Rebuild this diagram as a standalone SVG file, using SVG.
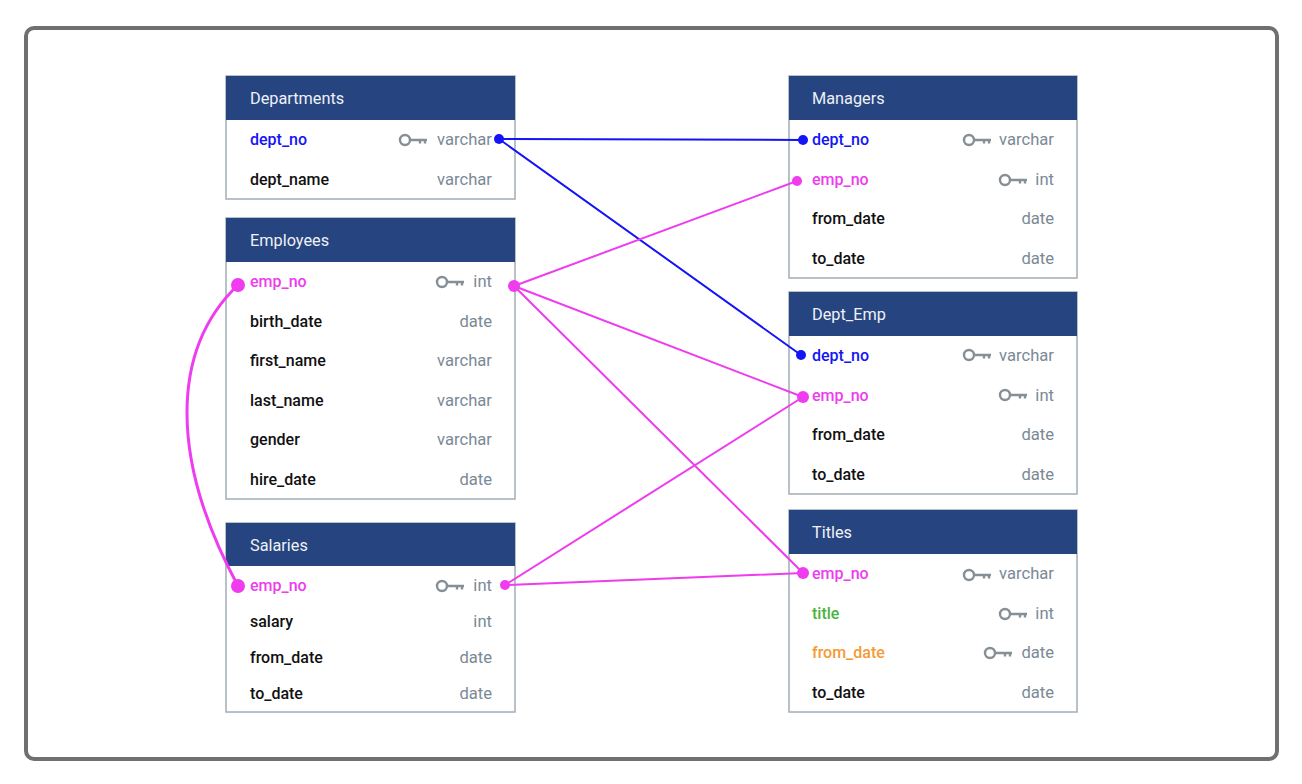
<svg xmlns="http://www.w3.org/2000/svg" width="1302" height="784" viewBox="0 0 1302 784">
<style>
.hdr{fill:#26447f}
.box{fill:#fff;stroke:#a3adb6;stroke-width:1.5}
.ttl{font-family:Roboto,"Liberation Sans",sans-serif;font-size:16.3px;fill:#eef1f7}
.f{font-family:Roboto,"Liberation Sans",sans-serif;font-size:16px;font-weight:500;fill:#111}
.t{font-family:Roboto,"Liberation Sans",sans-serif;font-size:16.6px;fill:#7a8995;text-anchor:end}
.blue{fill:#1414f5}
.mag{fill:#ee3cee}
.grn{fill:#4cb33c}
.org{fill:#f59a35}
.lb{stroke:#1414f5;stroke-width:2;fill:none}
.lm{stroke:#ee3cee;stroke-width:2;fill:none}
.key{stroke:#858f95;stroke-width:2.4;fill:none}
</style>
<defs>
<g id="k" class="key"><circle cx="0" cy="0" r="5"/><path d="M5,0H22M15,0v3.5M20,0v3.5"/></g>
</defs>
<rect x="26" y="28" width="1251" height="731" rx="8" fill="#fff" stroke="#707070" stroke-width="4"/>

<g id="Departments">
<rect class="box" x="226" y="76" width="289" height="123"/>
<rect class="hdr" x="226" y="76" width="289" height="44"/>
<text class="ttl" x="250" y="104">Departments</text>
<text class="f blue" x="250" y="145">dept_no</text><use href="#k" x="405" y="140"/><text class="t" x="492" y="145">varchar</text>
<text class="f" x="250" y="185">dept_name</text><text class="t" x="492" y="185">varchar</text>
</g>

<g id="Employees">
<rect class="box" x="226" y="218" width="289" height="281"/>
<rect class="hdr" x="226" y="218" width="289" height="44"/>
<text class="ttl" x="250" y="246">Employees</text>
<text class="f mag" x="250" y="287">emp_no</text><use href="#k" x="442" y="282"/><text class="t" x="492" y="287">int</text>
<text class="f" x="250" y="327">birth_date</text><text class="t" x="492" y="327">date</text>
<text class="f" x="250" y="366">first_name</text><text class="t" x="492" y="366">varchar</text>
<text class="f" x="250" y="406">last_name</text><text class="t" x="492" y="406">varchar</text>
<text class="f" x="250" y="445">gender</text><text class="t" x="492" y="445">varchar</text>
<text class="f" x="250" y="485">hire_date</text><text class="t" x="492" y="485">date</text>
</g>

<g id="Salaries">
<rect class="box" x="226" y="523" width="289" height="189"/>
<rect class="hdr" x="226" y="523" width="289" height="43"/>
<text class="ttl" x="250" y="551">Salaries</text>
<text class="f mag" x="250" y="591">emp_no</text><use href="#k" x="442" y="586"/><text class="t" x="492" y="591">int</text>
<text class="f" x="250" y="627">salary</text><text class="t" x="492" y="627">int</text>
<text class="f" x="250" y="663">from_date</text><text class="t" x="492" y="663">date</text>
<text class="f" x="250" y="699">to_date</text><text class="t" x="492" y="699">date</text>
</g>

<g id="Managers">
<rect class="box" x="789" y="76" width="288" height="202"/>
<rect class="hdr" x="789" y="76" width="288" height="44"/>
<text class="ttl" x="812" y="104">Managers</text>
<text class="f blue" x="812" y="145">dept_no</text><use href="#k" x="969" y="140"/><text class="t" x="1054" y="145">varchar</text>
<text class="f mag" x="812" y="185">emp_no</text><use href="#k" x="1005" y="180"/><text class="t" x="1054" y="185">int</text>
<text class="f" x="812" y="224">from_date</text><text class="t" x="1054" y="224">date</text>
<text class="f" x="812" y="264">to_date</text><text class="t" x="1054" y="264">date</text>
</g>

<g id="Dept_Emp">
<rect class="box" x="789" y="292" width="288" height="202"/>
<rect class="hdr" x="789" y="292" width="288" height="44"/>
<text class="ttl" x="812" y="320">Dept_Emp</text>
<text class="f blue" x="812" y="361">dept_no</text><use href="#k" x="969" y="355"/><text class="t" x="1054" y="361">varchar</text>
<text class="f mag" x="812" y="401">emp_no</text><use href="#k" x="1005" y="395"/><text class="t" x="1054" y="401">int</text>
<text class="f" x="812" y="440">from_date</text><text class="t" x="1054" y="440">date</text>
<text class="f" x="812" y="480">to_date</text><text class="t" x="1054" y="480">date</text>
</g>

<g id="Titles">
<rect class="box" x="789" y="510" width="288" height="202"/>
<rect class="hdr" x="789" y="510" width="288" height="44"/>
<text class="ttl" x="812" y="538">Titles</text>
<text class="f mag" x="812" y="579">emp_no</text><use href="#k" x="969" y="575"/><text class="t" x="1054" y="579">varchar</text>
<text class="f grn" x="812" y="619">title</text><use href="#k" x="1005" y="614"/><text class="t" x="1054" y="619">int</text>
<text class="f org" x="812" y="658">from_date</text><use href="#k" x="990" y="653"/><text class="t" x="1054" y="658">date</text>
<text class="f" x="812" y="698">to_date</text><text class="t" x="1054" y="698">date</text>
</g>

<g id="connectors">
<path class="lb" d="M499,139L803,140M499,139L801,355"/>
<path class="lm" d="M514,286L797,181M514,286L803,397M514,286L803,573M505,585L803,397M505,585L803,573"/>
<path d="M238,285C170,350 170,460 238,586" fill="none" stroke="#ee3cee" stroke-width="3"/>
<g fill="#1414f5"><circle cx="499" cy="139" r="5"/><circle cx="803" cy="140" r="5"/><circle cx="801" cy="355" r="5"/></g>
<g fill="#ee3cee"><circle cx="514" cy="286" r="6"/><circle cx="797" cy="181" r="5"/><circle cx="803" cy="397" r="6"/><circle cx="803" cy="573" r="6"/><circle cx="505" cy="585" r="5"/><circle cx="238" cy="285" r="7"/><circle cx="238" cy="586" r="7"/></g>
</g>
</svg>
